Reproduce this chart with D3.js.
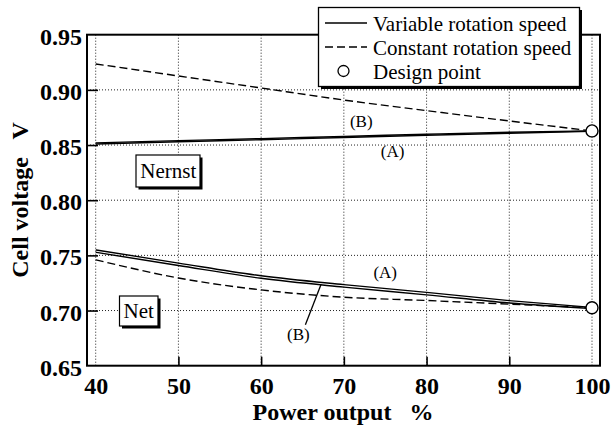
<!DOCTYPE html>
<html>
<head>
<meta charset="utf-8">
<script src="https://cdn.jsdelivr.net/npm/d3@7"></script>
<style>
  body { margin: 0; background: #fff; }
  svg text { font-family: "Liberation Serif", Tinos, "Times New Roman", Times, serif !important; }
</style>
</head>
<body>
<div id="viz"></div>
<script>
// data
var power = [40, 50, 60, 70, 80, 90, 100];
var nernstVarA = [0.8510, 0.8530, 0.8548, 0.8568, 0.8588, 0.8607, 0.8625];
var nernstVarB = [0.8520, 0.8540, 0.8558, 0.8578, 0.8598, 0.8616, 0.8628];
var nernstConst = [0.9235, 0.9126, 0.9017, 0.8908, 0.8812, 0.8718, 0.8628];
var netVarA = [0.7550, 0.7430, 0.7315, 0.7235, 0.7165, 0.7090, 0.7028];
var netVarB = [0.7528, 0.7408, 0.7292, 0.7212, 0.7142, 0.7068, 0.7018];
var netConst = [0.7460, 0.7295, 0.7187, 0.7121, 0.7091, 0.7058, 0.7025];
var designPoints = [[100, 0.8628], [100, 0.7025]];
var xTicks = [40, 50, 60, 70, 80, 90, 100];
var yTicks = [0.65, 0.70, 0.75, 0.80, 0.85, 0.90, 0.95];
var legendItems = ["Variable rotation speed", "Constant rotation speed", "Design point"];

var width = 611, height = 429;
var frame = { l: 87, r: 600, t: 34.7, b: 365.7 };

var svg = d3.select('#viz').append('svg')
  .attr('width', width)
  .attr('height', height);

var x = d3.scaleLinear().domain([40, 100]).range([95.7, 592]);
var y = d3.scaleLinear().domain([0.65, 0.95]).range([365.7, 34.7]);

//grid
var g_grid = svg.append('g').attr('class', 'grid');
g_grid.selectAll('line.vx').data(xTicks).enter().append('line')
  .attr('x1', d => x(d)).attr('x2', d => x(d))
  .attr('y1', frame.t).attr('y2', frame.b)
  .attr('stroke', '#222').attr('stroke-width', 1).attr('stroke-dasharray', '1,2');
g_grid.selectAll('line.hy').data(yTicks.slice(1, -1)).enter().append('line')
  .attr('x1', frame.l).attr('x2', frame.r)
  .attr('y1', d => y(d)).attr('y2', d => y(d))
  .attr('stroke', '#222').attr('stroke-width', 1).attr('stroke-dasharray', '1,2');

//axes
var xAxis = svg.append('g')
  .attr('transform', `translate(0, ${frame.b})`)
  .call(d3.axisBottom(x).tickValues(xTicks).tickSizeInner(-9).tickSizeOuter(0).tickPadding(11));
var yAxis = svg.append('g')
  .attr('transform', `translate(${frame.l}, 0)`)
  .call(d3.axisLeft(y).tickValues(yTicks).tickFormat(d3.format('.2f')).tickSizeInner(-11).tickSizeOuter(0).tickPadding(5));
[xAxis, yAxis].forEach(function(a) {
  a.attr('font-family', null);
  a.select('.domain').remove();
  a.selectAll('line').attr('stroke', '#000').attr('stroke-width', 1.6);
  a.selectAll('text')
    .style('font-size', '24px').style('font-weight', 'bold').attr('fill', '#000');
});
yAxis.selectAll('text').attr('dy', '0.4em');
xAxis.selectAll('.tick').filter(d => d == 40 || d == 100).select('line').remove();
yAxis.selectAll('.tick').filter(d => d == 0.65 || d == 0.95).select('line').remove();

//frame
svg.append('rect')
  .attr('x', frame.l).attr('y', frame.t)
  .attr('width', frame.r - frame.l).attr('height', frame.b - frame.t)
  .attr('fill', 'none').attr('stroke', '#000').attr('stroke-width', 2);

//curves
var line = d3.line().curve(d3.curveMonotoneX)
  .x(d => x(d[0])).y(d => y(d[1]));
var series = [
  { v: nernstConst, dash: '8,4' },
  { v: netConst, dash: '8,4' },
  { v: nernstVarA, dash: null },
  { v: nernstVarB, dash: null },
  { v: netVarA, dash: null },
  { v: netVarB, dash: null }
];
svg.append('g').selectAll('path').data(series).enter().append('path')
  .attr('d', s => line(power.map((p, i) => [p, s.v[i]])))
  .attr('fill', 'none').attr('stroke', '#000').attr('stroke-width', 1.4)
  .attr('stroke-dasharray', s => s.dash);

svg.append('g').selectAll('circle').data(designPoints).enter().append('circle')
  .attr('cx', d => x(d[0])).attr('cy', d => y(d[1])).attr('r', 6)
  .attr('fill', '#fff').attr('stroke', '#000').attr('stroke-width', 1.4);

//curve labels
var labels = [
  { t: '(B)', x: 72.1, v: 0.8662 },
  { t: '(A)', x: 75.9, v: 0.8393 },
  { t: '(A)', x: 75.0, v: 0.7292 },
  { t: '(B)', x: 64.5, v: 0.6735 }
];
svg.append('g').selectAll('text').data(labels).enter().append('text')
  .attr('x', d => x(d.x)).attr('y', d => y(d.v))
  .attr('text-anchor', 'middle').style('font-size', '17px')
  .text(d => d.t);
svg.append('line')
  .attr('x1', x(65.35)).attr('y1', y(0.6872))
  .attr('x2', x(67.25)).attr('y2', y(0.7238))
  .attr('stroke', '#000').attr('stroke-width', 1.3);

//boxed labels with shadow
function boxLabel(txt, bx, by, bw, bh, tx, ty) {
  var g = svg.append('g');
  g.append('rect').attr('x', bx + 2.5).attr('y', by + 2.5).attr('width', bw).attr('height', bh).attr('fill', '#000');
  g.append('rect').attr('x', bx).attr('y', by).attr('width', bw).attr('height', bh)
    .attr('fill', '#fff').attr('stroke', '#000').attr('stroke-width', 1.2);
  g.append('text').attr('x', tx).attr('y', ty).attr('text-anchor', 'middle')
    .style('font-size', '21px').text(txt);
}
boxLabel('Nernst', 136, 155, 64, 32, 168.3, 177.5);
boxLabel('Net', 119.5, 296, 38.5, 30, 138.7, 318);

//legend
var lg = svg.append('g');
lg.append('rect').attr('x', 321).attr('y', 10).attr('width', 261).attr('height', 79).attr('fill', '#000');
lg.append('rect').attr('x', 318.5).attr('y', 7.5).attr('width', 261).attr('height', 79)
  .attr('fill', '#fff').attr('stroke', '#000').attr('stroke-width', 1.3);
var rows = lg.selectAll('g.row').data(legendItems).enter().append('g')
  .attr('transform', (d, i) => `translate(0, ${23 + i * 24})`);
rows.filter((d, i) => i < 2).append('line')
  .attr('x1', 325).attr('x2', 367).attr('y1', 0).attr('y2', 0)
  .attr('stroke', '#000').attr('stroke-width', 1.4)
  .attr('stroke-dasharray', (d, i) => i == 1 ? '8,4' : null);
rows.filter((d, i) => i == 2).append('circle')
  .attr('cx', 343.5).attr('cy', 0).attr('r', 5.5)
  .attr('fill', '#fff').attr('stroke', '#000').attr('stroke-width', 1.3);
rows.append('text').attr('x', 373).attr('y', 7.5)
  .style('font-size', '21px').text(d => d);

//axis titles
svg.append('text')
  .attr('x', 343).attr('y', 420).attr('text-anchor', 'middle')
  .style('font-size', '24px').style('font-weight', 'bold').style('white-space', 'pre')
  .text('Power output   %');
svg.append('text')
  .attr('transform', 'translate(28, 200) rotate(-90)').attr('text-anchor', 'middle')
  .style('font-size', '24px').style('font-weight', 'bold').style('white-space', 'pre')
  .text('Cell voltage   V');
</script>
</body>
</html>
